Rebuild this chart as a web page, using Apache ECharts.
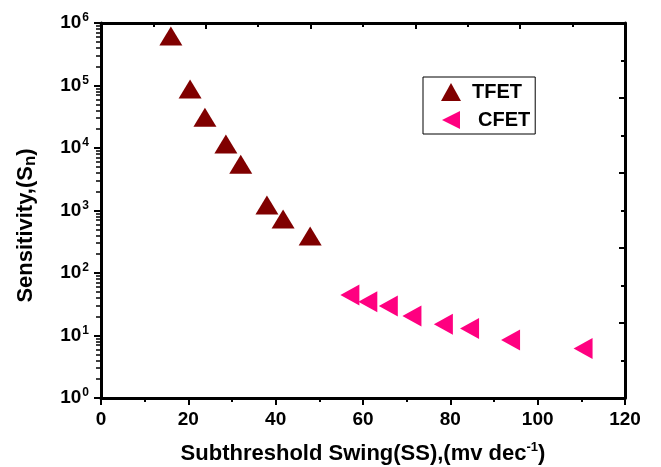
<!DOCTYPE html>
<html>
<head>
<meta charset="utf-8">
<script src="https://cdn.jsdelivr.net/npm/echarts@6/dist/echarts.min.js"></script>
<style>
  html, body { margin: 0; padding: 0; background: #fff; }
  #main { width: 661px; height: 467px; }
</style>
</head>
<body>
<div id="main"></div>
<script>
// values
var tfetSS = [16.0, 20.4, 23.8, 28.6, 32.0, 38.0, 41.7, 47.9];
var tfetSn = [620000, 88000, 31000, 11600, 5500, 1220, 730, 390];
var cfetSS = [57.0, 61.1, 65.8, 71.2, 78.4, 84.4, 93.8, 110.4];
var cfetSn = [44.5, 34.7, 29.6, 20.5, 15.1, 13.0, 8.5, 6.2];
var xTicks = [0, 20, 40, 60, 80, 100, 120];
var yDecades = [1, 10, 100, 1000, 10000, 100000, 1000000];

var font = 'Liberation Sans, Arial, sans-serif';
var leftTri = 'path://M0,5 L10,0 L10,10 Z';

function pairs(xs, ys) {
  return xs.map(function (x, i) { return [x, ys[i]]; });
}

// minor log ticks 2..9 within each decade, as exponents
var logMinorExp = [];
yDecades.slice(0, -1).forEach(function (d) {
  for (var k = 2; k <= 9; k++) logMinorExp.push(Math.log10(d * k));
});

var myChart = echarts.init(document.getElementById('main'));
myChart.setOption({
  animation: false,
  backgroundColor: '#fff',
  grid: { left: 101, right: 36, top: 23, bottom: 69, outerBoundsMode: 'none' },
  legend: {
    orient: 'vertical',
    left: 423,
    top: 77,
    padding: [5, 5, 4, 18],
    itemGap: 8,
    itemWidth: 20,
    itemHeight: 18,
    borderColor: '#000',
    borderWidth: 1,
    borderRadius: 0,
    textStyle: { fontFamily: font, fontWeight: 'bold', fontSize: 20, color: '#000' },
    data: [
      { name: 'TFET', icon: 'triangle', textStyle: { padding: [0, 0, 0, 6] } },
      { name: 'CFET', icon: leftTri, textStyle: { padding: [0, 0, 0, 12] } }
    ]
  },
  xAxis: [{
    type: 'value',
    min: xTicks[0],
    max: xTicks[xTicks.length - 1],
    interval: 20,
    name: 'Subthreshold Swing(SS),(mv dec{s|-1})',
    nameLocation: 'middle',
    nameGap: 43,
    nameTextStyle: {
      fontFamily: font, fontWeight: 'bold', fontSize: 22, color: '#000',
      rich: { s: { fontFamily: font, fontWeight: 'bold', fontSize: 13, verticalAlign: 'top', padding: [0, 0, 12, 0] } }
    },
    axisLine: { lineStyle: { color: '#000', width: 3 } },
    axisTick: { length: 7, lineStyle: { color: '#000', width: 2 } },
    minorTick: { show: true, splitNumber: 2, length: 4, lineStyle: { color: '#000', width: 2 } },
    splitLine: { show: false },
    axisLabel: { margin: 12, fontFamily: font, fontWeight: 'bold', fontSize: 19, color: '#000' }
  }, {
    type: 'value',
    position: 'top',
    min: 0,
    max: 120,
    interval: 24,
    axisLine: { show: true, onZero: false, lineStyle: { color: '#000', width: 3 } },
    axisTick: { show: true, inside: true, length: 6, lineStyle: { color: '#000', width: 2 } },
    minorTick: { show: true, splitNumber: 2, length: 4, lineStyle: { color: '#000', width: 2 } },
    splitLine: { show: false },
    axisLabel: { show: false }
  }],
  yAxis: [{
    type: 'log',
    logBase: 10,
    min: yDecades[0],
    max: yDecades[yDecades.length - 1],
    splitNumber: 6,
    name: 'Sensitivity,(S{n|n})',
    nameLocation: 'middle',
    nameGap: 62,
    nameTextStyle: {
      fontFamily: font, fontWeight: 'bold', fontSize: 22, color: '#000',
      padding: [0, 30, 0, 0],
      rich: { n: { fontFamily: font, fontWeight: 'bold', fontSize: 17, verticalAlign: 'bottom', padding: [10, 0, 0, 0] } }
    },
    axisLine: { lineStyle: { color: '#000', width: 3 } },
    axisTick: { length: 7, lineStyle: { color: '#000', width: 2 } },
    splitLine: { show: false },
    axisLabel: {
      margin: 12,
      formatter: function (v) {
        return '{b|10}{s|' + Math.round(Math.log10(v)) + '}';
      },
      rich: {
        b: { fontFamily: font, fontWeight: 'bold', fontSize: 19, color: '#000' },
        s: { fontFamily: font, fontWeight: 'bold', fontSize: 12, color: '#000', verticalAlign: 'top', padding: [0, 0, 10, 1] }
      }
    }
  }, {
    type: 'value',
    position: 'right',
    min: 0,
    max: 5,
    interval: 1,
    axisLine: { show: true, onZero: false, lineStyle: { color: '#000', width: 3 } },
    axisTick: { show: true, inside: true, length: 6, lineStyle: { color: '#000', width: 2 } },
    minorTick: { show: true, splitNumber: 2, length: 4, lineStyle: { color: '#000', width: 2 } },
    splitLine: { show: false },
    axisLabel: { show: false }
  }, {
    // minor log ticks on the left (exponent space)
    type: 'value',
    position: 'left',
    min: 0,
    max: yDecades.length - 1,
    axisLine: { show: false, onZero: false },
    axisTick: { show: true, length: 5, customValues: logMinorExp, lineStyle: { color: '#000', width: 1.5 } },
    splitLine: { show: false },
    axisLabel: { show: false }
  }],
  series: [{
    name: 'TFET',
    type: 'scatter',
    xAxisIndex: 0,
    yAxisIndex: 0,
    symbol: 'triangle',
    symbolSize: [23, 19],
    itemStyle: { color: '#800000', opacity: 1 },
    data: pairs(tfetSS, tfetSn)
  }, {
    name: 'CFET',
    type: 'scatter',
    xAxisIndex: 0,
    yAxisIndex: 0,
    symbol: leftTri,
    symbolSize: [19, 21],
    itemStyle: { color: '#FF0080', opacity: 1 },
    data: pairs(cfetSS, cfetSn)
  }]
});
</script>
</body>
</html>
